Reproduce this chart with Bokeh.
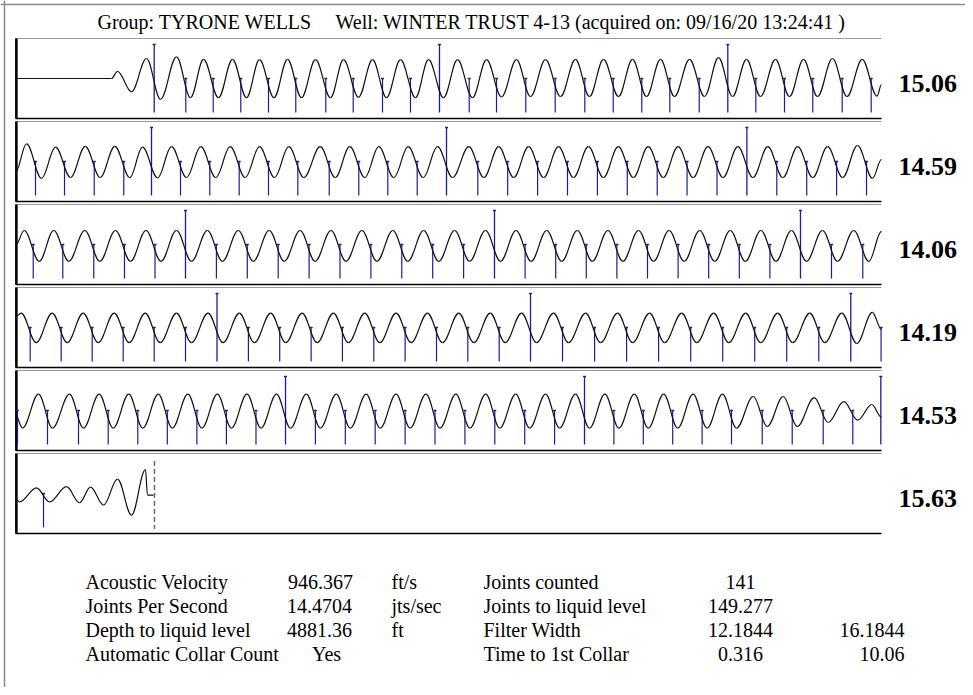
from bokeh.plotting import figure
from bokeh.models import Range1d, Label, Span
from bokeh.core.properties import value
from bokeh.embed import file_html
from bokeh.resources import INLINE

# ---------------- data (time in s within each strip, amplitude in strip units) ----------------
TITLE_GROUP = "Group: TYRONE WELLS"
TITLE_WELL = "Well: WINTER TRUST 4-13 (acquired on: 09/16/20 13:24:41 )"
STRIP_RATES = ["15.06", "14.59", "14.06", "14.19", "14.53", "15.63"]

# strip 1
S1_T = [0.0, 0.2217, 0.2356, 0.2679, 0.3025, 0.3349, 0.3718, 0.4042, 0.4342, 0.4688,
        0.5012, 0.5335, 0.5635, 0.5970, 0.6282, 0.6605, 0.6928, 0.7275, 0.7575, 0.7921,
        0.8245, 0.8568, 0.8891, 0.9238, 0.9538, 0.9885, 1.0208, 1.0554, 1.0878, 1.1224,
        1.1570, 1.1894, 1.2240, 1.2587, 1.2933, 1.3256, 1.3580, 1.3926, 1.4249, 1.4573,
        1.4896, 1.5219, 1.5566, 1.5912, 1.6236, 1.6559, 1.6882, 1.7206, 1.7552, 1.7875,
        1.8199, 1.8522, 1.8868, 1.9203, 1.9554, 1.9896, 2.0]
S1_A = [0.0, 0.0, 0.18, -0.33, 0.50, -0.52, 0.54, -0.48, 0.48, -0.48,
        0.48, -0.48, 0.47, -0.48, 0.48, -0.48, 0.47, -0.48, 0.47, -0.47,
        0.47, -0.48, 0.47, -0.48, 0.47, -0.48, 0.47, -0.48, 0.47, -0.46,
        0.47, -0.45, 0.47, -0.45, 0.48, -0.45, 0.48, -0.45, 0.48, -0.45,
        0.48, -0.45, 0.48, -0.45, 0.52, -0.45, 0.48, -0.45, 0.48, -0.45,
        0.48, -0.45, 0.50, -0.45, 0.48, -0.44, -0.15]
S1_SHORT = [0.3933, 0.4566, 0.5203, 0.5843, 0.6473, 0.7166, 0.7799, 0.8476, 0.9122,
            1.0478, 1.1109, 1.1785, 1.2464, 1.3148, 1.3804, 1.4464, 1.5111, 1.5790,
            1.7097, 1.7760, 1.8413, 1.9092, 1.9762]
S1_TALL = [0.3203, 0.9792, 1.6450]

# strip 2
S2_T = [0.0, 0.0254, 0.0601, 0.0924, 0.1271, 0.1610, 0.1957, 0.2293, 0.2640, 0.2933,
        0.3280, 0.3603, 0.3950, 0.4279, 0.4626, 0.4958, 0.5305, 0.5635, 0.5982, 0.6312,
        0.6659, 0.7037, 0.7384, 0.7720, 0.8067, 0.8390, 0.8737, 0.9069, 0.9416, 0.9746,
        1.0093, 1.0469, 1.0816, 1.1159, 1.1506, 1.1850, 1.2197, 1.2540, 1.2887, 1.3231,
        1.3578, 1.3921, 1.4268, 1.4612, 1.4959, 1.5302, 1.5649, 1.5993, 1.6340, 1.6683,
        1.7030, 1.7374, 1.7721, 1.8065, 1.8412, 1.8755, 1.9102, 1.9446, 1.9793, 2.0]
S2_A = [-0.27, 0.44, -0.42, 0.36, -0.40, 0.38, -0.40, 0.38, -0.40, 0.36,
        -0.41, 0.37, -0.40, 0.37, -0.40, 0.37, -0.40, 0.37, -0.40, 0.37,
        -0.40, 0.37, -0.40, 0.37, -0.40, 0.37, -0.40, 0.37, -0.40, 0.37,
        -0.40, 0.37, -0.40, 0.37, -0.40, 0.37, -0.40, 0.37, -0.40, 0.37,
        -0.40, 0.37, -0.40, 0.37, -0.40, 0.37, -0.40, 0.37, -0.40, 0.37,
        -0.40, 0.37, -0.40, 0.37, -0.40, 0.37, -0.40, 0.40, -0.42, 0.05]
S2_SHORT = [0.0462, 0.1132, 0.1818, 0.2501, 0.3811, 0.4487, 0.5166, 0.5843, 0.6520,
            0.7245, 0.7928, 0.8598, 0.9277, 1.0677, 1.1367, 1.2058, 1.2748, 1.3439,
            1.4129, 1.4820, 1.5510, 1.6201, 1.7582, 1.8273, 1.8963, 1.9654]
S2_TALL = [0.3141, 0.9954, 1.6891]

# strip 3
S3_T = [0.0, 0.0201, 0.0548, 0.0884, 0.1231, 0.1600, 0.1947, 0.2309, 0.2656, 0.3014,
        0.3361, 0.3718, 0.4065, 0.4432, 0.4779, 0.5145, 0.5492, 0.5859, 0.6206, 0.6573,
        0.6920, 0.7286, 0.7633, 0.8000, 0.8347, 0.8713, 0.9060, 0.9427, 0.9774, 1.0141,
        1.0488, 1.0854, 1.1201, 1.1561, 1.1908, 1.2268, 1.2615, 1.2974, 1.3321, 1.3681,
        1.4028, 1.4388, 1.4735, 1.5095, 1.5442, 1.5801, 1.6148, 1.6508, 1.6855, 1.7215,
        1.7562, 1.7921, 1.8268, 1.8637, 1.8984, 1.9360, 1.9707, 2.0]
S3_A = [-0.03, 0.35, -0.42, 0.35, -0.42, 0.35, -0.42, 0.35, -0.42, 0.35,
        -0.42, 0.35, -0.42, 0.35, -0.42, 0.35, -0.42, 0.35, -0.42, 0.35,
        -0.42, 0.35, -0.42, 0.35, -0.42, 0.35, -0.42, 0.35, -0.42, 0.35,
        -0.42, 0.35, -0.42, 0.35, -0.42, 0.35, -0.42, 0.35, -0.42, 0.35,
        -0.42, 0.35, -0.42, 0.35, -0.42, 0.35, -0.42, 0.35, -0.42, 0.35,
        -0.42, 0.35, -0.42, 0.35, -0.42, 0.35, -0.42, 0.33]
S3_SHORT = [0.0409, 0.1092, 0.1808, 0.2517, 0.3222, 0.4640, 0.5353, 0.6067, 0.6781,
            0.7494, 0.8208, 0.8921, 0.9635, 1.0349, 1.1769, 1.2476, 1.3182, 1.3889,
            1.4596, 1.5303, 1.6009, 1.6716, 1.7423, 1.8845, 1.9568]
S3_TALL = [0.3926, 1.1062, 1.8129]

# strip 4
S4_T = [0.0, 0.0131, 0.0478, 0.0847, 0.1194, 0.1563, 0.1910, 0.2279, 0.2626, 0.2995,
        0.3342, 0.3718, 0.4065, 0.4446, 0.4793, 0.5171, 0.5518, 0.5894, 0.6241, 0.6619,
        0.6966, 0.7342, 0.7689, 0.8067, 0.8414, 0.8790, 0.9137, 0.9515, 0.9862, 1.0238,
        1.0585, 1.0963, 1.1310, 1.1686, 1.2033, 1.2425, 1.2772, 1.3166, 1.3513, 1.3905,
        1.4252, 1.4644, 1.4991, 1.5386, 1.5733, 1.6125, 1.6472, 1.6864, 1.7211, 1.7603,
        1.7950, 1.8344, 1.8691, 1.9083, 1.9430, 1.9788, 2.0]
S4_A = [0.27, 0.36, -0.38, 0.36, -0.38, 0.36, -0.38, 0.36, -0.38, 0.36,
        -0.38, 0.36, -0.38, 0.36, -0.38, 0.36, -0.38, 0.36, -0.38, 0.36,
        -0.38, 0.36, -0.38, 0.36, -0.38, 0.36, -0.38, 0.36, -0.38, 0.36,
        -0.38, 0.36, -0.38, 0.36, -0.38, 0.36, -0.38, 0.36, -0.38, 0.36,
        -0.38, 0.36, -0.38, 0.36, -0.38, 0.36, -0.38, 0.36, -0.38, 0.36,
        -0.38, 0.36, -0.38, 0.36, -0.40, 0.38, -0.05]
S4_SHORT = [0.0339, 0.1055, 0.1771, 0.2487, 0.3203, 0.3926, 0.5379, 0.6102, 0.6827,
            0.7550, 0.8275, 0.8998, 0.9723, 1.0446, 1.1171, 1.2633, 1.3374, 1.4113,
            1.4852, 1.5594, 1.6333, 1.7072, 1.7811, 1.8552, 1.9990]
S4_TALL = [0.4654, 1.1894, 1.9291]

# strip 5
S5_T = [0.0, 0.0161, 0.0531, 0.0854, 0.1247, 0.1570, 0.1933, 0.2256, 0.2616, 0.2939,
        0.3298, 0.3621, 0.3981, 0.4304, 0.4663, 0.4986, 0.5346, 0.5669, 0.6028, 0.6351,
        0.6718, 0.7041, 0.7409, 0.7732, 0.8099, 0.8422, 0.8790, 0.9113, 0.9480, 0.9803,
        1.0171, 1.0494, 1.0861, 1.1184, 1.1552, 1.1875, 1.2242, 1.2565, 1.2933, 1.3256,
        1.3612, 1.3935, 1.4291, 1.4614, 1.4970, 1.5293, 1.5649, 1.5972, 1.6328, 1.6651,
        1.7037, 1.7360, 1.7730, 1.8053, 1.8446, 1.8769, 1.9129, 1.9452, 1.9776, 2.0]
S5_A = [-0.10, -0.44, 0.41, -0.44, 0.41, -0.44, 0.41, -0.44, 0.41, -0.44,
        0.41, -0.44, 0.41, -0.44, 0.41, -0.44, 0.41, -0.44, 0.41, -0.44,
        0.41, -0.44, 0.41, -0.44, 0.41, -0.44, 0.41, -0.44, 0.41, -0.44,
        0.41, -0.44, 0.41, -0.44, 0.41, -0.44, 0.41, -0.44, 0.41, -0.44,
        0.41, -0.44, 0.41, -0.44, 0.41, -0.44, 0.41, -0.44, 0.41, -0.44,
        0.35, -0.40, 0.35, -0.40, 0.32, -0.30, 0.22, -0.24, 0.15, -0.17]
S5_SHORT = [0.0046, 0.0739, 0.1455, 0.2141, 0.2824, 0.3506, 0.4189, 0.4871, 0.5554,
            0.6926, 0.7617, 0.8307, 0.8998, 0.9688, 1.0379, 1.1069, 1.1760, 1.2450,
            1.3820, 1.4499, 1.5178, 1.5857, 1.6536, 1.7245, 1.7938, 1.8654, 1.9337]
S5_TALL = [0.6236, 1.3141, 1.9984]

# strip 6
S6_T = [0.0, 0.0092, 0.0485, 0.0785, 0.1178, 0.1478, 0.1732, 0.2032, 0.2356, 0.2679,
        0.3002, 0.3048, 0.3187]
S6_A = [-0.12, -0.21, 0.14, -0.21, 0.17, -0.23, 0.16, -0.29, 0.36, -0.54,
        0.60, -0.04, -0.04]
S6_SHORT = [0.0647]
S6_TALL = []
LIQUID_LEVEL_T = 0.3210

# summary table
TABLE_LABELS_1 = ["Acoustic Velocity", "Joints Per Second", "Depth to liquid level", "Automatic Collar Count"]
TABLE_VALUES_1 = ["946.367", "14.4704", "4881.36", "Yes"]
TABLE_UNITS_1 = ["ft/s", "jts/sec", "ft", ""]
TABLE_LABELS_2 = ["Joints counted", "Joints to liquid level", "Filter Width", "Time to 1st Collar"]
TABLE_VALUES_2 = ["141", "149.277", "12.1844", "0.316"]
TABLE_VALUES_3 = ["", "", "16.1844", "10.06"]

STRIPS = [(S1_T, S1_A, S1_SHORT, S1_TALL), (S2_T, S2_A, S2_SHORT, S2_TALL),
          (S3_T, S3_A, S3_SHORT, S3_TALL), (S4_T, S4_A, S4_SHORT, S4_TALL),
          (S5_T, S5_A, S5_SHORT, S5_TALL), (S6_T, S6_A, S6_SHORT, S6_TALL)]

# ---------------- layout constants (canvas pixels) ----------------
W, H = 965, 687
PAGE_X0 = 15.0        # canvas x where strip time 0 sits
PX_PER_S = 433.0
PAGE_YC1 = 78.0       # canvas y of first strip centre
PX_PER_UNIT = 40.0
PITCH = 83.0 / PX_PER_UNIT
STRIP_LEN = 2.0
K = 0.3642            # bezier handle for sine-like half waves
TEXT_DY = 0.36        # em; renderer places text this far below the requested baseline

SERIF = "Liberation Serif"
WAVE_COLOR = "#111111"
COLLAR_COLOR = "#1c1c9c"


def px2x(px):
    return (px - PAGE_X0) / PX_PER_S


def py2y(py):
    return (PAGE_YC1 - py) / PX_PER_UNIT


def tb(py, size):
    # data y for a text whose baseline should land on canvas row py
    return py2y(py - TEXT_DY * size)


p = figure(width=W, height=H, output_backend="svg", toolbar_location=None,
           x_range=Range1d(px2x(0), px2x(W)), y_range=Range1d(py2y(H), py2y(0)),
           x_axis_type=None, y_axis_type=None, min_border=0,
           outline_line_color=None, background_fill_color="white", border_fill_color="white")
p.grid.visible = False

# outer frame (left and top edges)
p.add_layout(Span(location=px2x(4), dimension="height", line_color="#8a8a8a", line_width=1.5))
p.add_layout(Span(location=py2y(4), dimension="width", line_color="#8a8a8a", line_width=1.5))

for k, (t, a, short, tall) in enumerate(STRIPS):
    off = -k * PITCH
    # strip frame
    p.segment(x0=[0, 0], y0=[off + 1.0, off - 1.0], x1=[STRIP_LEN, STRIP_LEN], y1=[off + 1.0, off - 1.0],
              line_color=["#9a9a9a", "#000000"], line_width=[1.0, 1.4])
    p.segment(x0=[0.002], y0=[off + 1.0], x1=[0.002], y1=[off - 1.0], line_color="#000000", line_width=2.6)

    # collar marks
    if short:
        p.segment(x0=short, y0=[off] * len(short), x1=short, y1=[off - 0.85] * len(short),
                  line_color=COLLAR_COLOR, line_width=1.2)
        p.scatter(x=short, y=[off] * len(short), marker="dash", size=3,
                  line_color=COLLAR_COLOR, line_width=1.5)
    if tall:
        p.segment(x0=tall, y0=[off + 0.85] * len(tall), x1=tall, y1=[off - 0.85] * len(tall),
                  line_color=COLLAR_COLOR, line_width=1.3)
        p.scatter(x=tall, y=[off + 0.85] * len(tall), marker="dash", size=3,
                  line_color=COLLAR_COLOR, line_width=1.5)

    # acoustic trace: smooth half-waves between the read extrema
    pairs = list(zip(t, a))
    x0 = [q[0] for q in pairs[:-1]]
    x1 = [q[0] for q in pairs[1:]]
    y0 = [q[1] + off for q in pairs[:-1]]
    y1 = [q[1] + off for q in pairs[1:]]
    cx0 = [u + K * (v - u) for u, v in zip(x0, x1)]
    cx1 = [v - K * (v - u) for u, v in zip(x0, x1)]
    p.bezier(x0=x0, y0=y0, x1=x1, y1=y1, cx0=cx0, cy0=y0, cx1=cx1, cy1=y1,
             line_color=WAVE_COLOR, line_width=1.2)

# rate labels on the right (digits' baseline 14 px below the strip centre)
p.text(x=[px2x(898)] * len(STRIP_RATES),
       y=[tb(PAGE_YC1 + k * 83.0 + 14, 26) for k in range(len(STRIP_RATES))],
       text=STRIP_RATES, text_font=value(SERIF), text_font_style="bold", text_font_size="26px",
       text_baseline="alphabetic", text_align="left", text_color="#000000")

# liquid level marker in the last strip
off6 = -5 * PITCH
p.segment(x0=[LIQUID_LEVEL_T], y0=[off6 + 0.81], x1=[LIQUID_LEVEL_T], y1=[off6 - 0.89],
          line_color="#666666", line_width=1.5, line_dash="5 3")

# title
p.add_layout(Label(x=px2x(97), y=tb(29, 20), text=TITLE_GROUP, text_font=SERIF,
                   text_font_size="20px", text_baseline="alphabetic", text_color="#000000"))
p.add_layout(Label(x=px2x(335), y=tb(29, 20), text=TITLE_WELL, text_font=SERIF,
                   text_font_size="20px", text_baseline="alphabetic", text_color="#000000"))

# summary table
row_base = [589, 613, 637, 661]
cols = [(TABLE_LABELS_1, [85] * 4, "left"), (TABLE_VALUES_1, [320, 319, 319, 326], "center"),
        (TABLE_UNITS_1, [391] * 4, "left"), (TABLE_LABELS_2, [483] * 4, "left"),
        (TABLE_VALUES_2, [740] * 4, "center"), (TABLE_VALUES_3, [904] * 4, "right")]
for texts, xs, align in cols:
    for txt, cx, by in zip(texts, xs, row_base):
        if txt:
            p.add_layout(Label(x=px2x(cx), y=tb(by, 20), text=txt, text_font=SERIF,
                               text_font_size="20px", text_align=align,
                               text_baseline="alphabetic", text_color="#000000"))

open("out.html", "w").write(file_html(p, INLINE))
